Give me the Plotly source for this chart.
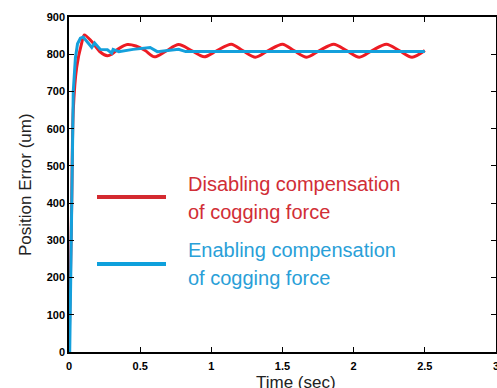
import plotly.graph_objects as go

# disabling compensation (red)
red_t = [0, 0.01, 0.019, 0.03, 0.054, 0.089, 0.108, 0.16, 0.22, 0.27, 0.3, 0.35, 0.41, 0.47,
         0.535, 0.6, 0.68, 0.77, 0.86, 0.95, 1.04, 1.14, 1.22, 1.31, 1.40, 1.50, 1.58, 1.67,
         1.76, 1.86, 1.95, 2.04, 2.13, 2.23, 2.32, 2.41, 2.5]
red_v = [0, 200, 400, 650, 765, 830, 852, 834, 806, 796, 800, 815, 826, 822,
         810, 793, 808, 826, 810, 793, 810, 827, 810, 792, 810, 827, 810, 792,
         810, 827, 810, 792, 810, 827, 810, 792, 810]

# enabling compensation (blue)
blue_t = [0.005, 0.018, 0.03, 0.045, 0.06, 0.08, 0.1, 0.16, 0.18, 0.22, 0.27, 0.3, 0.31,
          0.35, 0.45, 0.57, 0.62, 0.77, 0.82, 2.5]
blue_v = [0, 450, 700, 790, 828, 843, 846, 818, 830, 813, 812, 803, 813,
          807, 813, 818, 807, 813, 807, 807]

RED = "#ed1c24"
BLUE = "#14a0dc"
FONT = "Arial, Liberation Sans, sans-serif"

W, H = 497, 388
L, R, T, B = 69, 1, 17, 36


def px(x):
    return (x - L) / (W - L - R)


def py(y):
    return (H - B - y) / (H - T - B)


fig = go.Figure()
fig.add_trace(go.Scatter(x=red_t, y=red_v, mode="lines", line=dict(color=RED, width=3, shape="spline", smoothing=0.8)))
fig.add_trace(go.Scatter(x=blue_t, y=blue_v, mode="lines", line=dict(color=BLUE, width=3)))

axis = dict(
    showgrid=False, zeroline=False, showline=True, linecolor="black", linewidth=1.5,
    mirror="ticks", ticks="inside", ticklen=5, tickwidth=1.2, tickcolor="black",
    tickfont=dict(family=FONT, size=11, color="black", weight="bold"),
    automargin=False,
)
fig.update_xaxes(range=[0, 3], dtick=0.5, ticklabeloverflow="allow", ticklabelstandoff=3, **axis)
fig.update_yaxes(range=[0, 900], dtick=100, **axis)

# legend drawn by hand
for y, c in [(197, "#d42a30"), (264, "#0ea0dc")]:
    fig.add_shape(type="line", xref="paper", yref="paper", x0=px(97), x1=px(166), y0=py(y), y1=py(y),
                  line=dict(color=c, width=4))
labels = [("Disabling compensation", 184, "#d12e36"), ("of cogging force", 212, "#d12e36"),
          ("Enabling compensation", 250, "#2a9fd8"), ("of cogging force", 278, "#2a9fd8")]
for txt, y, c in labels:
    fig.add_annotation(text=txt, xref="paper", yref="paper", x=px(186), y=py(y), xanchor="left",
                       yanchor="middle", showarrow=False, font=dict(family=FONT, size=20, color=c))

fig.add_annotation(text="Position Error (um)", xref="paper", yref="paper", x=px(25), y=py(185),
                   xanchor="center", yanchor="middle",
                   textangle=-90, showarrow=False, font=dict(family=FONT, size=17, color="#222"))
fig.add_annotation(text="Time (sec)", xref="paper", yref="paper", x=px(296), y=py(382),
                   xanchor="center", yanchor="middle",
                   showarrow=False, font=dict(family=FONT, size=17, color="#222"))

fig.update_layout(
    width=W, height=H, showlegend=False,
    plot_bgcolor="white", paper_bgcolor="white",
    margin=dict(l=L, r=R, t=T, b=B),
)
fig.write_html("out.html", config={"displayModeBar": False},
               post_script="document.body.style.margin='0';")
